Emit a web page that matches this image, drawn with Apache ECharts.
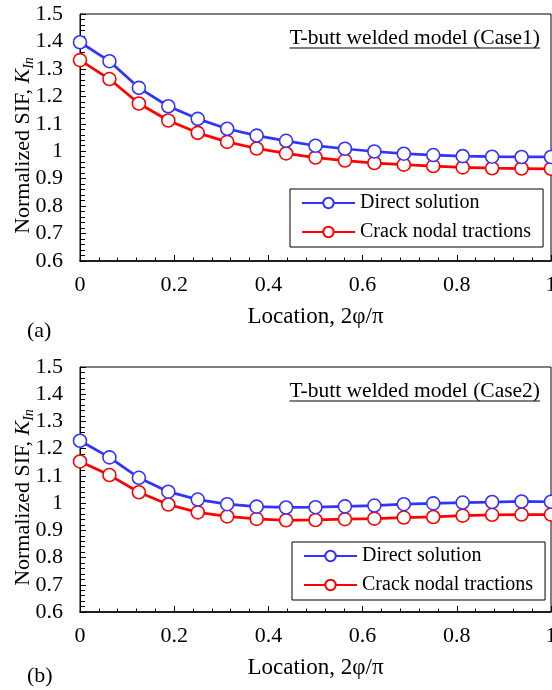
<!DOCTYPE html>
<html><head><meta charset="utf-8">
<script src="https://cdn.jsdelivr.net/npm/echarts@6/dist/echarts.min.js"></script>
<style>html,body{margin:0;padding:0;background:#fff}#c{width:552px;height:690px}</style>
</head><body><div id="c"></div>
<script>
const locations = [0,0.0625,0.125,0.1875,0.25,0.3125,0.375,0.4375,0.5,0.5625,0.625,0.6875,0.75,0.8125,0.875,0.9375,1];
const case1Direct = [1.397,1.328,1.231,1.164,1.118,1.082,1.057,1.038,1.020,1.009,0.999,0.991,0.986,0.982,0.980,0.979,0.979];
const case1Traction = [1.332,1.263,1.174,1.112,1.067,1.034,1.010,0.992,0.977,0.966,0.957,0.951,0.946,0.941,0.938,0.937,0.936];
const case2Direct = [1.229,1.168,1.093,1.042,1.013,0.996,0.987,0.984,0.985,0.988,0.991,0.996,0.999,1.002,1.004,1.006,1.005];
const case2Traction = [1.153,1.103,1.040,0.995,0.966,0.951,0.942,0.937,0.938,0.941,0.943,0.947,0.949,0.954,0.957,0.958,0.958];
const seriesNames = ['Direct solution','Crack nodal tractions'];
const panelTitles = ['T-butt welded model (Case1)','T-butt welded model (Case2)'];
const panelLabels = ['(a)','(b)'];

const FONT = '"Liberation Serif"';
const BLUE = '#3333ff', RED = '#ff0000';
const grids = [{left:80, top:14, width:471, height:247},{left:80, top:367, width:471, height:245}];
const legendTops = [189, 542];
const legendLefts = [290, 292];
const labelTops = [320, 665];
const chart = echarts.init(document.getElementById('c'), null, {renderer:'canvas'});

function pairs(y){ return locations.map((x,i)=>[x,y[i]]); }

const xAxes = [], yAxes = [], series = [], legends = [], graphics = [];
const ctx = document.createElement('canvas').getContext('2d');
ctx.font = '21.5px "Liberation Serif"';
grids.forEach((g,k)=>{
  xAxes.push({type:'value', gridIndex:k, min:0, max:1, interval:0.2,
    name:'Location, 2φ/π', nameLocation:'middle', nameGap:44,
    nameTextStyle:{fontFamily:FONT, fontSize:23, color:'#000'},
    axisLine:{show:true, onZero:false, lineStyle:{color:'#000', width:1.6}},
    axisTick:{show:true, inside:true, length:6, lineStyle:{color:'#000', width:1}},
    minorTick:{show:true, splitNumber:5, length:3.5, lineStyle:{color:'#000', width:1}},
    axisLabel:{fontFamily:FONT, fontSize:22, color:'#000', margin:13},
    splitLine:{show:false}});
  yAxes.push({type:'value', gridIndex:k, min:0.6, max:1.5, interval:0.1,
    name:'Normalized SIF, {i|K}{s|In}', nameLocation:'middle', nameGap:44, nameRotate:90,
    nameMoveOverlap:false,
    nameTextStyle:{fontFamily:FONT, fontSize:22, color:'#000', padding:[0,16,0,0],
      rich:{i:{fontFamily:FONT, fontSize:22, fontStyle:'italic', color:'#000'},
            s:{fontFamily:FONT, fontSize:14, fontStyle:'italic', color:'#000', verticalAlign:'bottom', padding:[11,0,0,0]}}},
    axisLine:{show:true, onZero:false, lineStyle:{color:'#000', width:1}},
    axisTick:{show:true, inside:true, length:6, lineStyle:{color:'#000', width:1}},
    minorTick:{show:true, splitNumber:5, length:5, lineStyle:{color:'#000', width:1}},
    axisLabel:{fontFamily:FONT, fontSize:22, color:'#000', margin:17, formatter:v=>String(Math.round(v*10)/10)},
    splitLine:{show:false}});
  const dataSets = k===0 ? [case1Direct, case1Traction] : [case2Direct, case2Traction];
  [BLUE, RED].forEach((col,j)=>{
    series.push({type:'line', name:seriesNames[j], xAxisIndex:k, yAxisIndex:k,
      data:pairs(dataSets[j]), symbol:'circle', symbolSize:13, showAllSymbol:true,
      lineStyle:{color:col, width:2.75}, itemStyle:{color:'#fff', borderColor:col, borderWidth:1.6},
      emphasis:{disabled:true}, z: 3-j, animation:false});
  });
  legends.push({orient:'vertical', left:legendLefts[k], top:legendTops[k],
    data:seriesNames, itemWidth:53, itemHeight:13, itemGap:9,
    padding:[4,12,5,11], borderColor:'#000', borderWidth:1, backgroundColor:'#fff',
    textStyle:{fontFamily:FONT, fontSize:20, color:'#000'},
    selectedMode:false});
  const tw = ctx.measureText(panelTitles[k]).width;
  const xr = 540;
  graphics.push({type:'text', x:xr, y:g.top + 24, style:{text:panelTitles[k], font:'21.5px "Liberation Serif"', fill:'#000', align:'right', verticalAlign:'middle'}});
  graphics.push({type:'line', shape:{x1:xr - tw, y1:g.top + 34, x2:xr, y2:g.top + 34}, style:{stroke:'#000', lineWidth:1}, silent:true});
  graphics.push({type:'text', x:27, y:labelTops[k], style:{text:panelLabels[k], font:'22px "Liberation Serif"', fill:'#000', verticalAlign:'top'}});
  graphics.push({type:'rect', shape:{x:g.left, y:g.top, width:g.width, height:g.height}, style:{fill:'none', stroke:'#000', lineWidth:1}, silent:true, z:0});
});

chart.setOption({
  animation:false,
  grid: grids.map(g=>Object.assign({containLabel:false, outerBoundsMode:'none'}, g)),
  xAxis:xAxes, yAxis:yAxes, series:series, legend:legends, graphic:graphics
});
</script></body></html>
